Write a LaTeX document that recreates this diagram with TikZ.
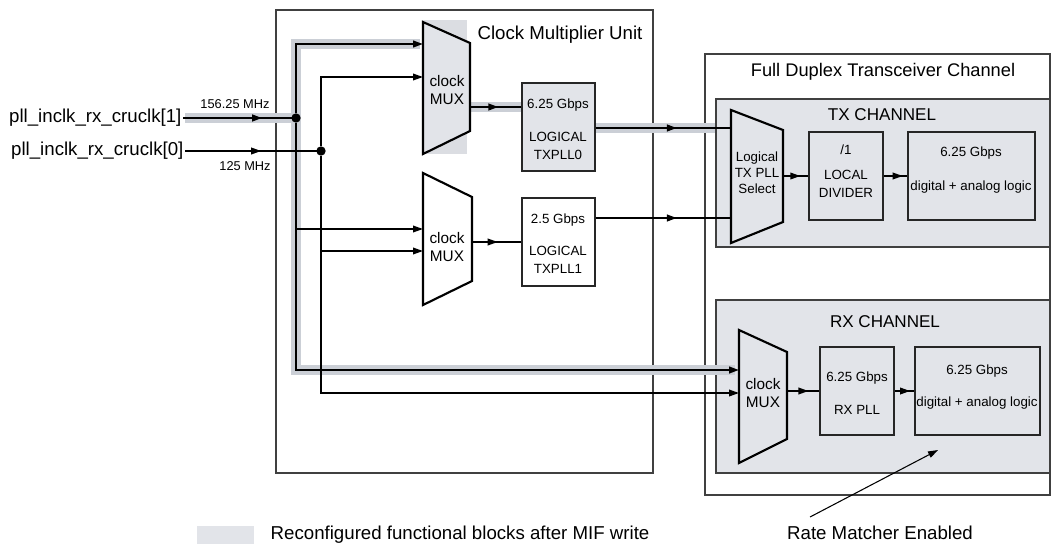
\documentclass[tikz,border=0pt]{standalone}
\usepackage{fontspec}
\setmainfont{Liberation Sans}
\usepackage{xcolor}
\usetikzlibrary{arrows.meta, calc, fit, decorations.markings}

\definecolor{hlgray}{RGB}{203,207,214}
\definecolor{chgray}{RGB}{226,228,233}

\begin{document}
\begin{tikzpicture}[x=0.75pt, y=-0.75pt, >={Triangle[length=7.5pt, width=5pt]},
    bigtxt/.style={font=\fontsize{14}{16}\selectfont},
    chtxt/.style={font=\fontsize{12.8}{15}\selectfont},
    boxtxt/.style={font=\fontsize{10}{13}\selectfont, align=center},
    muxtxt/.style={font=\fontsize{11.5}{13.5}\selectfont, align=center},
    smalltxt/.style={font=\fontsize{9.6}{11}\selectfont},
    frame/.style={draw=black!75, line width=0.8pt, inner sep=0pt},
    chbox/.style={frame, fill=chgray},
    blk/.style={draw=black!85, line width=0.8pt, inner sep=0pt},
    muxline/.style={draw=black, line width=1.6pt, line join=miter},
    bus/.style={line width=1.6pt},
    wire/.style={line width=1.1pt},
    hl/.style={draw=hlgray, line width=7.5pt},
    dot/.style={circle, fill, inner sep=0pt, minimum size=7pt},
    midarrow/.style={postaction={decorate, decoration={markings,
        mark=at position #1 with {\arrow{Triangle[length=7.5pt, width=5pt]}}}}}]

\useasboundingbox (0,0) rectangle (1052,543);

% ── Frames ────────────────────────────────────────────────────────
\node[frame, fit={(276,10) (653,473)}] (cmu) {};
\node[bigtxt] (cmulbl) at (560,35) {Clock Multiplier Unit};

\node[frame, fit={(705,54) (1050,495)}] (fdtc) {};
\node[bigtxt, font=\fontsize{13.7}{16}\selectfont] (fdtclbl) at (883,72) {Full Duplex Transceiver Channel};

\node[chbox, fit={(716,99) (1050,247)}] (txch) {};
\node[chtxt] (txchlbl) at (882,115) {TX CHANNEL};

\node[chbox, fit={(716,300) (1050,473)}] (rxch) {};
\node[chtxt] (rxchlbl) at (885,322) {RX CHANNEL};

% ── Highlights (reconfigured path) ────────────────────────────────
\coordinate (b1t) at (296,44);
\coordinate (b1b) at (296,370);
\coordinate (m0a) at (423,44);
\coordinate (m0b) at (423,77);
\coordinate (m1a) at (423,229);
\coordinate (m1b) at (423,251);
\coordinate (rxa) at (739,370);
\coordinate (rxb) at (739,393);
\coordinate (t1) at (296,229);
\coordinate (t2) at (321,251);
\coordinate (m0o) at (470,107);
\coordinate (m1o) at (472,242);
\coordinate (sel0) at (731,128);
\coordinate (sel1) at (731,218);

\fill[hlgray!70] (423,20) rectangle (467,154);
\draw[hl] (185,118) -- (296,118);
\draw[hl, line join=miter] (420,44) -- (b1t) -- (b1b) -- (735,370);
\draw[hl] (m0o) -- (522,107);
\draw[hl] (595,128) -- (715,128);

% ── Inputs ────────────────────────────────────────────────────────
\node[bigtxt, anchor=east, inner sep=1pt] (in1) at (183,118) {pll\_inclk\_rx\_cruclk[1]};
\node[bigtxt, anchor=east, inner sep=1pt] (in0) at (185,151) {pll\_inclk\_rx\_cruclk[0]};
\node[smalltxt] (f1) at (235,104) {156.25 MHz};
\node[smalltxt] (f0) at (245,166) {125 MHz};

\node[dot] (j1) at (296,118) {};
\node[dot] (j2) at (321,151) {};

\draw[bus, midarrow=0.7] (in1.east) -- (j1.center);
\draw[wire, midarrow=0.56] (in0.east) -- (j2.center);

% clock buses
\draw[bus, ->] (j1) |- (m0a);
\draw[bus, ->] (j1) |- (rxa);
\draw[wire, ->] (j2) |- (m0b);
\draw[wire, ->] (j2) |- (rxb);
\draw[wire, ->] (t1) -- (m1a);
\draw[wire, ->] (t2) -- (m1b);

% ── Clock Multiplier Unit ─────────────────────────────────────────
\draw[muxline, fill=chgray] (423,22) -- (470,43) -- (470,131) -- (423,154) -- cycle;
\node[muxtxt] (mux0) at (447,90) {clock\\MUX};

\draw[muxline, fill=white] (423,173) -- (472,197) -- (472,281) -- (423,305) -- cycle;
\node[muxtxt] (mux1) at (447,247) {clock\\MUX};

\node[blk, fill=chgray, fit={(522,83) (595,171)}] (pll0) {};
\node[boxtxt] (pll0a) at (558,105) {6.25 Gbps};
\node[boxtxt] (pll0b) at (558,146) {LOGICAL\\TXPLL0};

\node[blk, fill=white, fit={(522,198) (595,286)}] (pll1) {};
\node[boxtxt] (pll1a) at (558,220) {2.5 Gbps};
\node[boxtxt] (pll1b) at (558,260) {LOGICAL\\TXPLL1};

\draw[bus, midarrow=0.55] (m0o) -- (m0o -| pll0.west);
\draw[wire, midarrow=0.52] (m1o) -- (pll1.west);
\draw[bus, midarrow=0.6] (pll0.east |- sel0) -- (sel0);
\draw[bus, midarrow=0.6] (pll1.east |- sel1) -- (sel1);

% ── TX channel ────────────────────────────────────────────────────
\draw[muxline, fill=chgray] (731,110) -- (783,130) -- (783,222) -- (731,243) -- cycle;
\node[boxtxt, font=\fontsize{10}{12}\selectfont] (sel) at (757,173) {Logical\\TX PLL\\Select};

\node[blk, fill=chgray, fit={(809,132) (883,220)}] (div) {};
\node[boxtxt] (diva) at (846,150) {/1};
\node[boxtxt] (divb) at (846,184) {LOCAL\\DIVIDER};

\node[blk, fill=chgray, fit={(908,132) (1035,220)}] (txlog) {};
\node[boxtxt] (txloga) at (971,153) {6.25 Gbps};
\node[boxtxt] (txlogb) at (971,187) {digital + analog logic};

\draw[wire, midarrow=0.68] (783,176) -- (div.west);
\draw[wire, midarrow=0.8] (div.east) -- (txlog.west);

% ── RX channel ────────────────────────────────────────────────────
\draw[muxline, fill=chgray] (739,330) -- (787,352) -- (787,439) -- (739,463) -- cycle;
\node[muxtxt] (rxmux) at (763,393) {clock\\MUX};

\node[blk, fill=chgray, fit={(820,347) (894,435)}] (rxpll) {};
\node[boxtxt] (rxplla) at (857,378) {6.25 Gbps};
\node[boxtxt] (rxpllb) at (857,410) {RX PLL};

\node[blk, fill=chgray, fit={(915,347) (1040,435)}] (rxlog) {};
\node[boxtxt] (rxloga) at (977,371) {6.25 Gbps};
\node[boxtxt] (rxlogb) at (977,403) {digital + analog logic};

\draw[wire, midarrow=0.66] (787,391) -- (rxpll.west);
\draw[wire, midarrow=0.78] (rxpll.east) -- (rxlog.west);

% rate matcher note
\node[bigtxt, anchor=base] (rme) at (880,539) {Rate Matcher Enabled};
\coordinate (rms) at (810,517);
\coordinate (rmt) at (938,450);
\draw[line width=0.8pt, ->] (rms) -- (rmt);

% ── Legend ────────────────────────────────────────────────────────
\fill[chgray] (197,526) rectangle (254,545);
\node[bigtxt, anchor=base west] (leg) at (266,539) {Reconfigured functional blocks after MIF write};

\end{tikzpicture}
\end{document}
